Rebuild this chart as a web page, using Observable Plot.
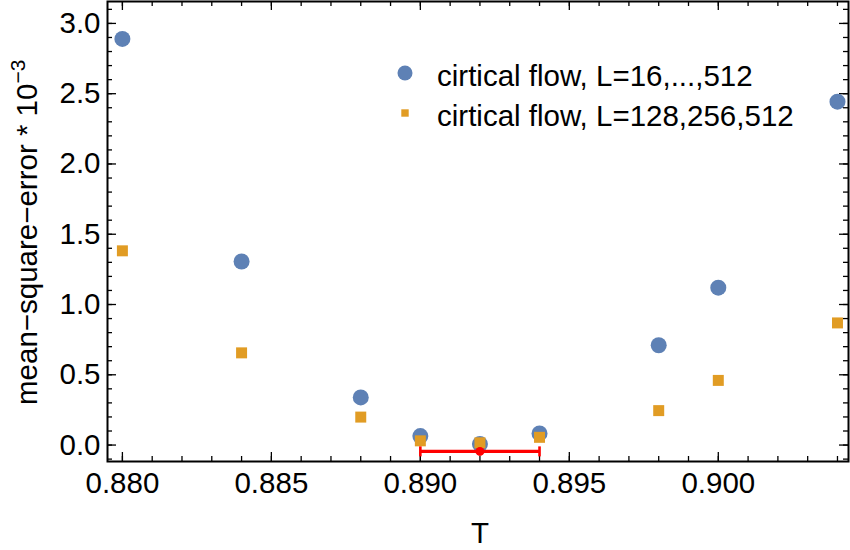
<!DOCTYPE html>
<html><head><meta charset="utf-8">
<script src="https://cdn.jsdelivr.net/npm/d3@7"></script>
<script src="https://cdn.jsdelivr.net/npm/@observablehq/plot@0.6"></script>
<style>body{margin:0;background:#fff;} #chart{width:850px;height:550px;}</style>
</head><body><div id="chart"></div>
<script>
// ---- data ----
const temps = [0.880, 0.884, 0.888, 0.890, 0.892, 0.894, 0.898, 0.900, 0.904];
const mseAll = [2.89, 1.306, 0.339, 0.064, 0.007, 0.083, 0.71, 1.12, 2.443];
const mseLarge = [1.382, 0.656, 0.199, 0.03, 0.016, 0.055, 0.245, 0.46, 0.869];
const seriesNames = ["cirtical flow, L=16,...,512", "cirtical flow, L=128,256,512"];
const seriesColors = ["#5e81b5", "#e19c24"];
const errCenter = [0.892];
const errLow = [0.890];
const errHigh = [0.894];
const errLevel = [-0.045];
const xMajor = [0.880, 0.885, 0.890, 0.895, 0.900];
const xMinor = d3.range(880, 905).map(v => v / 1000);
const yMajor = [0, 0.5, 1.0, 1.5, 2.0, 2.5, 3.0];
const yMinor = d3.range(-1, 32).map(v => v / 10);
const xTitle = "T";
const yTitle = "mean\u2212square\u2212error * 10";
const yTitleExp = "\u22123";

// ---- layout ----
const W = 850, H = 550, mL = 107, mR = 2, mT = 1, mB = 89;
const innerW = W - mL - mR, innerH = H - mT - mB;
const font = "'Liberation Sans', Arial, Helvetica, sans-serif";
const fs = 29.5;

const ptsAll = temps.map((t, i) => ({T: t, v: mseAll[i]}));
const ptsLarge = temps.map((t, i) => ({T: t, v: mseLarge[i]}));
const errRows = errCenter.map((c, i) => ({c, lo: errLow[i], hi: errHigh[i], y: errLevel[i]}));
const capSymbol = {draw(ctx) { ctx.moveTo(0, -5); ctx.lineTo(0, 5); }};

const tickStyle = {stroke: "black", strokeWidth: 1.3};
const chart = Plot.plot({
  width: W, height: H,
  marginLeft: mL, marginRight: mR, marginTop: mT, marginBottom: mB,
  style: {fontFamily: font, fontSize: fs + "px", background: "white", color: "black"},
  x: {domain: [0.8795, 0.90437]},
  y: {domain: [-0.117, 3.156]},
  marks: [
    Plot.axisX({ticks: xMajor, tickSize: 0, tickPadding: 11, tickFormat: d3.format(".3f"), fontSize: fs, label: null}),
    Plot.axisY({ticks: yMajor, tickSize: 0, tickPadding: 7, tickFormat: d3.format(".1f"), fontSize: fs, label: null}),
    // inward ticks on all four sides
    Plot.ruleX(xMajor, {insetTop: innerH - 9, ...tickStyle}),
    Plot.ruleX(xMinor, {insetTop: innerH - 5, ...tickStyle}),
    Plot.ruleX(xMajor, {insetBottom: innerH - 9, ...tickStyle}),
    Plot.ruleX(xMinor, {insetBottom: innerH - 5, ...tickStyle}),
    Plot.ruleY(yMajor, {insetRight: innerW - 9, ...tickStyle}),
    Plot.ruleY(yMinor, {insetRight: innerW - 5, ...tickStyle}),
    Plot.ruleY(yMajor, {insetLeft: innerW - 9, ...tickStyle}),
    Plot.ruleY(yMinor, {insetLeft: innerW - 5, ...tickStyle}),
    Plot.frame({stroke: "black", strokeWidth: 2}),
    // data
    Plot.dot(ptsAll, {x: "T", y: "v", r: 8, fill: seriesColors[0]}),
    Plot.dot(ptsLarge, {x: "T", y: "v", r: 6.2, symbol: "square", fill: seriesColors[1]}),
    // error bar
    Plot.ruleY(errRows, {x1: "lo", x2: "hi", y: "y", stroke: "red", strokeWidth: 3.2}),
    Plot.dot(errRows.flatMap(d => [{x: d.lo, y: d.y}, {x: d.hi, y: d.y}]), {x: "x", y: "y", symbol: capSymbol, stroke: "red", strokeWidth: 2.6, fill: "none"}),
    Plot.dot(errRows, {x: "c", y: "y", r: 4.5, fill: "red"})
  ]
});
document.getElementById("chart").appendChild(chart);

// ---- titles and legend (added to the same SVG) ----
const svg = d3.select(chart);
svg.append("text")
  .attr("x", 480).attr("y", 543)
  .attr("text-anchor", "middle").attr("font-family", font).attr("font-size", fs).attr("fill", "black")
  .text(xTitle);
const yt = svg.append("text")
  .attr("transform", `translate(37,405) rotate(-90)`)
  .attr("text-anchor", "start").attr("font-family", font).attr("font-size", 29.5).attr("fill", "black");
yt.append("tspan").text(yTitle);
yt.append("tspan").attr("dy", -12).attr("font-size", 21).text(yTitleExp);

const leg = svg.append("g").attr("font-family", font).attr("font-size", fs).attr("fill", "black");
seriesNames.forEach((name, i) => {
  const cy = 73 + i * 40;
  if (i === 0) leg.append("circle").attr("cx", 405).attr("cy", cy).attr("r", 7.5).attr("fill", seriesColors[i]);
  else leg.append("rect").attr("x", 401.3).attr("y", cy - 3.7).attr("width", 7.4).attr("height", 7.4).attr("fill", seriesColors[i]);
  leg.append("text").attr("x", 437).attr("y", cy + 4).attr("text-anchor", "start").attr("dy", "0.32em").text(name);
});
</script>
</body></html>
